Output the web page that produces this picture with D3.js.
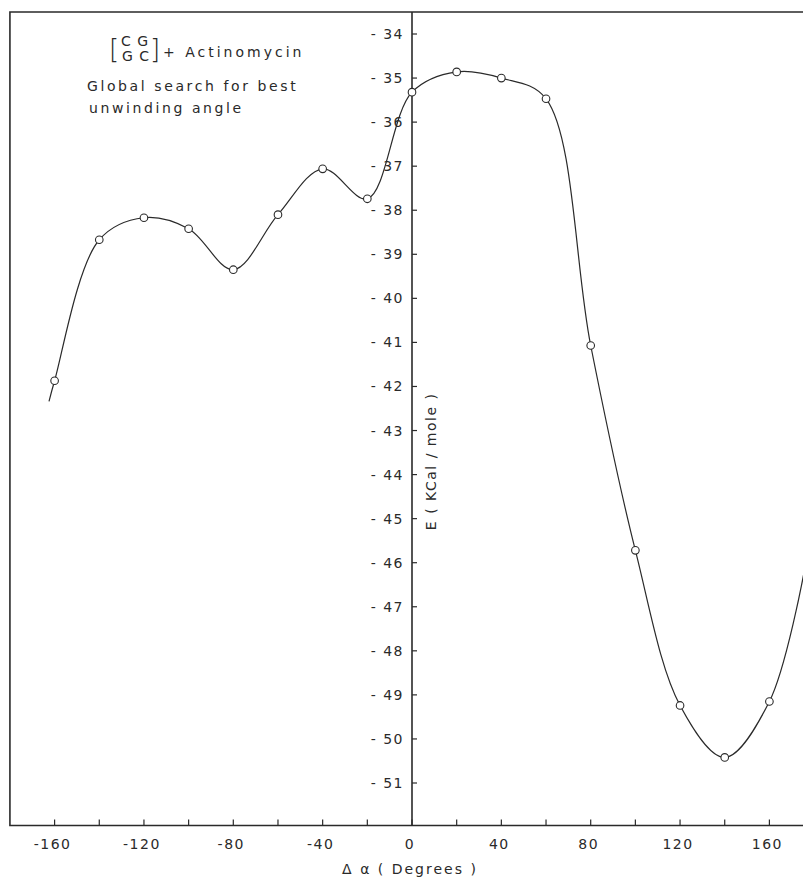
<!DOCTYPE html>
<html>
<head>
<meta charset="utf-8">
<script src="https://cdn.jsdelivr.net/npm/d3@7"></script>
<style>
  html, body { margin: 0; padding: 0; background: #fff; }
  svg { display: block; }
  text { font-family: "DejaVu Sans", "Liberation Sans", sans-serif; fill: #2a2a2a; }
</style>
</head>
<body>
<svg id="chart" width="803" height="882"></svg>
<script>
// Unwinding angle (degrees) and computed interaction energy (kcal/mole)
const angles   = [-160, -140, -120, -100, -80, -60, -40, -20, 0, 20, 40, 60, 80, 100, 120, 140, 160];
const energies = [-41.87, -38.67, -38.17, -38.42, -39.35, -38.10, -37.06, -37.74, -35.32, -34.86, -35.00, -35.47, -41.07, -45.72, -49.24, -50.42, -49.15];

// Where the hand-drawn curve starts and ends beyond the first and last points
const curveStart = [-162.5, -42.34];
const curveEnd   = [175.5, -46.22];

const xTicksMinor = d3.range(-160, 161, 20);
const xTickLabels = [-160, -120, -80, -40, 0, 40, 80, 120, 160];
const yTicks      = d3.range(-34, -52, -1);

const svg = d3.select("#chart");

const x = d3.scaleLinear().domain([-160, 160]).range([54.6, 769.4]);
const y = d3.scaleLinear().domain([-34, -51]).range([34, 783]);

const ink = "#2a2a2a";

// Frame: left and top border plus the bottom (angle) axis line
const frameL = x(-180), frameT = y(-33.5), frameB = 825.5, frameR = 810;
svg.append("path")
  .attr("d", `M${frameR},${frameT}H${frameL}V${frameB}H${frameR}`)
  .attr("fill", "none").attr("stroke", ink).attr("stroke-width", 1.6);

// Angle axis: small ticks pointing up, labels every 40 degrees
const gx = svg.append("g").attr("transform", `translate(0,${frameB})`);
gx.selectAll("line").data(xTicksMinor).join("line")
  .attr("x1", d => x(d)).attr("x2", d => x(d))
  .attr("y1", 0).attr("y2", -6)
  .attr("stroke", ink).attr("stroke-width", 1.2);
gx.selectAll("text").data(xTickLabels).join("text")
  .attr("x", d => x(d) - 2).attr("y", 23)
  .attr("text-anchor", "middle")
  .attr("font-size", 14).attr("letter-spacing", 1.5)
  .text(d => d);

svg.append("text")
  .attr("x", x(0) - 2).attr("y", 874)
  .attr("text-anchor", "middle")
  .attr("font-size", 14).attr("letter-spacing", 2)
  .text("Δ α  ( Degrees )");

// Energy axis drawn through zero angle, ticks pointing right
const x0 = x(0);
svg.append("line")
  .attr("x1", x0).attr("x2", x0).attr("y1", frameT).attr("y2", frameB)
  .attr("stroke", ink).attr("stroke-width", 1.6);
const gy = svg.append("g");
gy.selectAll("line").data(yTicks).join("line")
  .attr("x1", x0).attr("x2", x0 + 5)
  .attr("y1", d => y(d)).attr("y2", d => y(d))
  .attr("stroke", ink).attr("stroke-width", 1.2);
gy.selectAll("text").data(yTicks).join("text")
  .attr("x", x0 - 8).attr("y", d => y(d) + 5)
  .attr("text-anchor", "end")
  .attr("font-size", 14).attr("letter-spacing", 1.5)
  .text(d => "- " + Math.abs(d));

svg.append("text")
  .attr("transform", `translate(${x0 + 24},${y(-43.7)}) rotate(-90)`)
  .attr("text-anchor", "middle")
  .attr("font-size", 14).attr("letter-spacing", 1.5)
  .text("E  ( KCal / mole )");

// Energy curve and sampled points
const pts = angles.map((a, i) => [a, energies[i]]);
const linePts = [curveStart, ...pts, curveEnd];
const line = d3.line().x(d => x(d[0])).y(d => y(d[1])).curve(d3.curveCatmullRom.alpha(0.5));
svg.append("path")
  .attr("d", line(linePts))
  .attr("fill", "none").attr("stroke", ink).attr("stroke-width", 1.2);

svg.selectAll("circle.pt").data(pts).join("circle")
  .attr("class", "pt")
  .attr("cx", d => x(d[0])).attr("cy", d => y(d[1])).attr("r", 3.8)
  .attr("fill", "#fff").attr("stroke", ink).attr("stroke-width", 1.1);

// Annotation: duplex sequence + drug, and description
const note = svg.append("g").attr("font-size", 14);
note.append("text").attr("x", 109).attr("y", 58).attr("font-size", 26)
  .attr("font-weight", 300).text("[");
note.append("text").attr("x", 121).attr("y", 46).attr("font-size", 14).attr("letter-spacing", 1).text("C G");
note.append("text").attr("x", 122).attr("y", 61).attr("font-size", 14).attr("letter-spacing", 1).text("G C");
note.append("text").attr("x", 150).attr("y", 58).attr("font-size", 26)
  .attr("font-weight", 300).text("]");
note.append("text").attr("x", 163).attr("y", 57).attr("letter-spacing", 3).text("+ Actinomycin");
note.append("text").attr("x", 87).attr("y", 91).attr("letter-spacing", 2.6).text("Global  search  for  best");
note.append("text").attr("x", 89).attr("y", 113).attr("letter-spacing", 2.6).text("unwinding  angle");
</script>
</body>
</html>
